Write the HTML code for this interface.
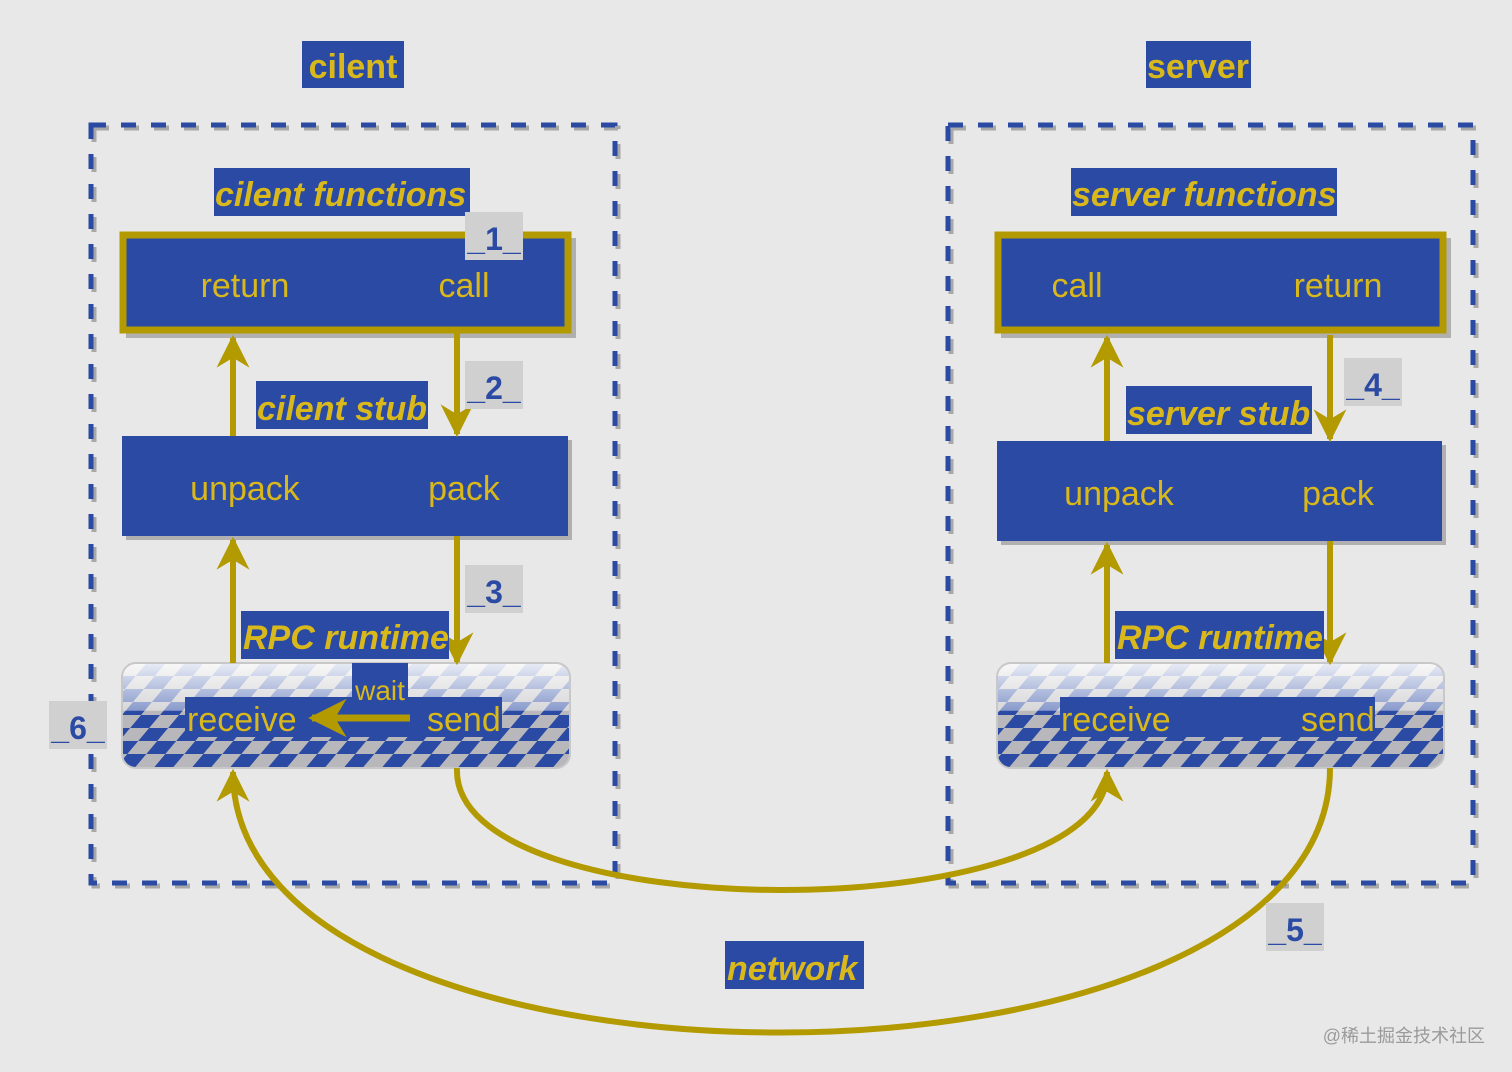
<!DOCTYPE html>
<html><head><meta charset="utf-8">
<style>
html,body{margin:0;padding:0;background:#e8e8e8;}
svg{display:block;}
text{font-family:"Liberation Sans",sans-serif;}
.lbl{fill:#d9b81c;font-size:34px;}
.ttl{fill:#d9b81c;font-size:34px;font-weight:bold;font-style:italic;}
.num{fill:#2a4aa3;font-size:32px;font-weight:bold;}
</style></head><body>
<svg width="1512" height="1072" viewBox="0 0 1512 1072" xmlns="http://www.w3.org/2000/svg">
<defs>
<pattern id="pt" width="38" height="26" patternUnits="userSpaceOnUse" patternTransform="skewX(-40)">
<rect width="38" height="26" fill="#b8b8bc"/>
<rect x="0" y="0" width="19" height="13" fill="#2a4aa3"/>
<rect x="19" y="13" width="19" height="13" fill="#2a4aa3"/>
</pattern>
<linearGradient id="gl" x1="0" y1="0" x2="0" y2="1">
<stop offset="0" stop-color="#fff" stop-opacity="0.9"/>
<stop offset="0.45" stop-color="#fff" stop-opacity="0.45"/>
<stop offset="0.46" stop-color="#fff" stop-opacity="0"/>
<stop offset="1" stop-color="#fff" stop-opacity="0"/>
</linearGradient>
<marker id="ah" viewBox="0 0 10 10" refX="9" refY="5" markerWidth="5.5" markerHeight="5.5" orient="auto" markerUnits="strokeWidth">
<path d="M0,0 L10,5 L0,10 L3,5 z" fill="#b39a00"/>
</marker>
</defs>
<rect width="1512" height="1072" fill="#e8e8e8"/>

<g fill="none" stroke-width="5" stroke-dasharray="15 15">
<rect x="94" y="128" width="524" height="758" stroke="#a8a8a8"/>
<rect x="91" y="125" width="524" height="758" stroke="#2a4aa3"/>
<rect x="951" y="128" width="525" height="758" stroke="#a8a8a8"/>
<rect x="948" y="125" width="525" height="758" stroke="#2a4aa3"/>
</g>

<rect x="302" y="41" width="102" height="47" fill="#2a4aa3"/>
<text x="353" y="78" class="ttl" style="font-style:normal" text-anchor="middle">cilent</text>
<rect x="1146" y="41" width="105" height="47" fill="#2a4aa3"/>
<text x="1198" y="78" class="ttl" style="font-style:normal" text-anchor="middle">server</text>

<rect x="126" y="238" width="450" height="100" fill="#b0b0b0"/>
<rect x="123" y="235" width="445" height="95" fill="#2a4aa3" stroke="#b39a00" stroke-width="7"/>
<text x="245" y="297" class="lbl" text-anchor="middle">return</text>
<text x="464" y="297" class="lbl" text-anchor="middle">call</text>
<rect x="1001" y="238" width="450" height="100" fill="#b0b0b0"/>
<rect x="998" y="235" width="445" height="95" fill="#2a4aa3" stroke="#b39a00" stroke-width="7"/>
<text x="1077" y="297" class="lbl" text-anchor="middle">call</text>
<text x="1338" y="297" class="lbl" text-anchor="middle">return</text>

<rect x="214" y="168" width="256" height="48" fill="#2a4aa3"/>
<text x="215" y="206" class="ttl">cilent functions</text>
<rect x="1071" y="168" width="266" height="48" fill="#2a4aa3"/>
<text x="1072" y="206" class="ttl">server functions</text>

<rect x="126" y="440" width="446" height="100" fill="#b0b0b0"/>
<rect x="122" y="436" width="446" height="100" fill="#2a4aa3"/>
<text x="245" y="500" class="lbl" text-anchor="middle">unpack</text>
<text x="464" y="500" class="lbl" text-anchor="middle">pack</text>
<rect x="1001" y="445" width="445" height="100" fill="#b0b0b0"/>
<rect x="997" y="441" width="445" height="100" fill="#2a4aa3"/>
<text x="1119" y="505" class="lbl" text-anchor="middle">unpack</text>
<text x="1338" y="505" class="lbl" text-anchor="middle">pack</text>

<g>
<rect x="122" y="663" width="448" height="105" rx="14" fill="url(#pt)"/>
<rect x="122" y="663" width="448" height="105" rx="14" fill="url(#gl)" stroke="#c8c8c8" stroke-width="2"/>
<rect x="997" y="663" width="447" height="105" rx="14" fill="url(#pt)"/>
<rect x="997" y="663" width="447" height="105" rx="14" fill="url(#gl)" stroke="#c8c8c8" stroke-width="2"/>
</g>
<rect x="185" y="697" width="317" height="40" fill="#2a4aa3"/>
<rect x="352" y="663" width="56" height="40" fill="#2a4aa3"/>
<text x="380" y="700" class="lbl" style="font-size:28px" text-anchor="middle">wait</text>
<text x="187" y="731" class="lbl">receive</text>
<text x="427" y="731" class="lbl">send</text>
<line x1="410" y1="718" x2="312" y2="718" stroke="#b39a00" stroke-width="7" marker-end="url(#ah)"/>
<rect x="1060" y="697" width="315" height="40" fill="#2a4aa3"/>
<text x="1061" y="731" class="lbl">receive</text>
<text x="1301" y="731" class="lbl">send</text>

<g stroke="#b39a00" stroke-width="6" fill="none" marker-end="url(#ah)">
<line x1="233" y1="436" x2="233" y2="338"/>
<line x1="233" y1="663" x2="233" y2="540"/>
<line x1="457" y1="332" x2="457" y2="434"/>
<line x1="457" y1="536" x2="457" y2="662"/>
<line x1="1107" y1="441" x2="1107" y2="338"/>
<line x1="1107" y1="663" x2="1107" y2="545"/>
<line x1="1330" y1="335" x2="1330" y2="439"/>
<line x1="1330" y1="541" x2="1330" y2="662"/>
<path d="M457,768 C450,930 1107,930 1107,772"/>
<path d="M1330,768 C1330,1120 233,1120 233,772"/>
</g>

<rect x="256" y="381" width="172" height="48" fill="#2a4aa3"/>
<text x="257" y="420" class="ttl">cilent stub</text>
<rect x="1126" y="386" width="186" height="48" fill="#2a4aa3"/>
<text x="1127" y="425" class="ttl">server stub</text>
<rect x="241" y="611" width="208" height="48" fill="#2a4aa3"/>
<text x="243" y="649" class="ttl">RPC runtime</text>
<rect x="1115" y="611" width="209" height="48" fill="#2a4aa3"/>
<text x="1117" y="649" class="ttl">RPC runtime</text>
<rect x="725" y="941" width="139" height="48" fill="#2a4aa3"/>
<text x="727" y="980" class="ttl">network</text>

<g>
<rect x="465" y="212" width="58" height="48" fill="#d0d0d0"/><text x="494" y="250" class="num" text-anchor="middle">_1_</text>
<rect x="465" y="361" width="58" height="48" fill="#d0d0d0"/><text x="494" y="399" class="num" text-anchor="middle">_2_</text>
<rect x="465" y="565" width="58" height="48" fill="#d0d0d0"/><text x="494" y="603" class="num" text-anchor="middle">_3_</text>
<rect x="1344" y="358" width="58" height="48" fill="#d0d0d0"/><text x="1373" y="396" class="num" text-anchor="middle">_4_</text>
<rect x="1266" y="903" width="58" height="48" fill="#d0d0d0"/><text x="1295" y="941" class="num" text-anchor="middle">_5_</text>
<rect x="49" y="701" width="58" height="48" fill="#d0d0d0"/><text x="78" y="739" class="num" text-anchor="middle">_6_</text>
</g>

<text x="1485" y="1042" text-anchor="end" style="font-family:'Liberation Sans','Noto Sans CJK SC',sans-serif;font-size:18px;fill:#9a9a9a">@稀土掘金技术社区</text>
</svg>
</body></html>
